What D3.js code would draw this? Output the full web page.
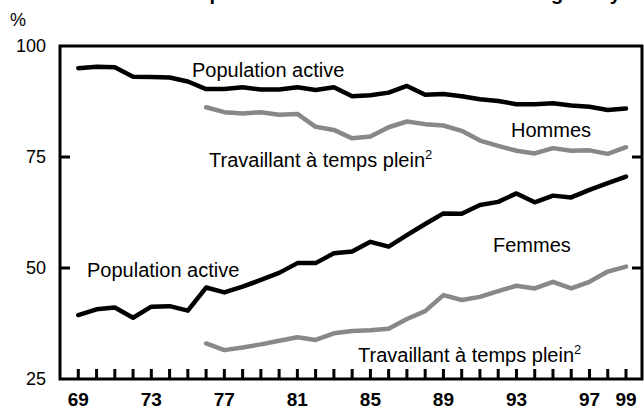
<!DOCTYPE html>
<html>
<head>
  <meta charset="utf-8">
  <script src="https://d3js.org/d3.v7.min.js"></script>
  <style>
    body { margin: 0; background: #fff; }
    svg { display: block; font-family: "Liberation Sans", Arial, sans-serif; }
  </style>
</head>
<body>
<svg id="chart"></svg>
<script>
  var width = 644;
  var height = 409;

  // years 1969..1999 (labour force), 1976..1999 (full-time)
  const years = d3.range(69, 100);
  const yearsFT = d3.range(76, 100);
  const tickLabels = [69, 73, 77, 81, 85, 89, 93, 97, 99];
  const yTicks = [25, 50, 75, 100];

  const menActive = [95.0, 95.3, 95.2, 93.1, 93.0, 92.9, 92.0, 90.3, 90.3, 90.7,
    90.2, 90.2, 90.7, 90.1, 90.7, 88.7, 88.9, 89.5, 91.0, 89.0, 89.2, 88.7,
    88.0, 87.6, 86.9, 86.9, 87.1, 86.6, 86.3, 85.6, 85.9];
  const menFullTime = [86.2, 85.1, 84.8, 85.1, 84.5, 84.7, 81.8, 81.1, 79.2, 79.6,
    81.7, 83.0, 82.4, 82.1, 80.9, 78.7, 77.5, 76.4, 75.8, 77.0, 76.4, 76.5,
    75.7, 77.2];
  const womenActive = [39.4, 40.7, 41.1, 38.8, 41.3, 41.4, 40.4, 45.6, 44.5, 45.8,
    47.3, 48.9, 51.1, 51.1, 53.3, 53.7, 55.9, 54.8, 57.4, 59.9, 62.3, 62.2,
    64.2, 64.9, 66.8, 64.8, 66.3, 65.9, 67.6, 69.1, 70.6];
  const womenFullTime = [33.0, 31.5, 32.1, 32.8, 33.6, 34.4, 33.8, 35.3, 35.8, 36.0,
    36.3, 38.5, 40.3, 43.9, 42.8, 43.5, 44.8, 46.0, 45.4, 46.9, 45.4, 46.9,
    49.2, 50.3];

  const plotLeft = 60, plotRight = 642, plotTop = 46, plotBottom = 379;

  var svg = d3.select("#chart")
    .attr("width", width)
    .attr("height", height);

  var x = d3.scaleLinear().domain([69, 99]).range([78.3, 626]);
  var y = d3.scaleLinear().domain([25, 100]).range([plotBottom, plotTop]);

  // title, cropped off the top of the picture
  svg.append("text")
    .attr("x", 340)
    .attr("y", 0)
    .attr("text-anchor", "middle")
    .style("font-weight", "bold")
    .style("font-size", "20px")
    .text("Indicateurs de l'emploi des hommes et des femmes d'âge moyen¹");

  svg.append("text")
    .attr("x", 10)
    .attr("y", 26)
    .style("font-size", "18px")
    .text("%");

  // frame
  svg.append("rect")
    .attr("x", plotLeft)
    .attr("y", plotTop)
    .attr("width", plotRight - plotLeft)
    .attr("height", plotBottom - plotTop)
    .attr("fill", "none")
    .attr("stroke", "#000")
    .attr("stroke-width", 3);

  // y ticks on both sides, pointing inward
  var yTickG = svg.append("g");
  yTicks.filter(d => d > 25 && d < 100).forEach(function(d) {
    yTickG.append("line")
      .attr("x1", plotLeft).attr("x2", plotLeft + 10)
      .attr("y1", y(d)).attr("y2", y(d))
      .attr("stroke", "#000").attr("stroke-width", 3);
    yTickG.append("line")
      .attr("x1", plotRight - 10).attr("x2", plotRight)
      .attr("y1", y(d)).attr("y2", y(d))
      .attr("stroke", "#000").attr("stroke-width", 3);
  });

  svg.selectAll(".ylabel")
    .data(yTicks)
    .enter()
    .append("text")
    .attr("class", "ylabel")
    .attr("x", 46)
    .attr("y", d => y(d) + 6)
    .attr("text-anchor", "end")
    .style("font-size", "18px")
    .text(d => d);

  // x ticks, upward from the bottom axis
  svg.selectAll(".xtick")
    .data(years)
    .enter()
    .append("line")
    .attr("class", "xtick")
    .attr("x1", d => x(d)).attr("x2", d => x(d))
    .attr("y1", plotBottom).attr("y2", plotBottom - 10)
    .attr("stroke", "#000")
    .attr("stroke-width", 3);

  svg.selectAll(".xlabel")
    .data(tickLabels)
    .enter()
    .append("text")
    .attr("class", "xlabel")
    .attr("x", d => x(d))
    .attr("y", 406)
    .attr("text-anchor", "middle")
    .style("font-size", "19px")
    .style("font-weight", "bold")
    .text(d => d);

  var line = d3.line()
    .x(d => x(d[0]))
    .y(d => y(d[1]));

  var series = [
    { yrs: years, vals: menActive, color: "#000" },
    { yrs: yearsFT, vals: menFullTime, color: "#888" },
    { yrs: years, vals: womenActive, color: "#000" },
    { yrs: yearsFT, vals: womenFullTime, color: "#888" }
  ];

  series.forEach(function(s) {
    svg.append("path")
      .datum(s.yrs.map((yr, i) => [yr, s.vals[i]]))
      .attr("fill", "none")
      .attr("stroke", s.color)
      .attr("stroke-width", 4.5)
      .attr("stroke-linejoin", "round")
      .attr("stroke-linecap", "round")
      .attr("d", line);
  });

  // annotations
  function label(tx, ty, txt, sup) {
    var t = svg.append("text")
      .attr("x", tx)
      .attr("y", ty)
      .style("font-size", "20px")
      .text(txt);
    if (sup) {
      t.append("tspan")
        .attr("dy", -8)
        .style("font-size", "13px")
        .text(sup);
    }
  }

  label(192, 77, "Population active");
  label(209, 167, "Travaillant à temps plein", "2");
  label(511, 137, "Hommes");
  label(87, 277, "Population active");
  label(493, 252, "Femmes");
  label(358, 362, "Travaillant à temps plein", "2");
</script>
</body>
</html>
